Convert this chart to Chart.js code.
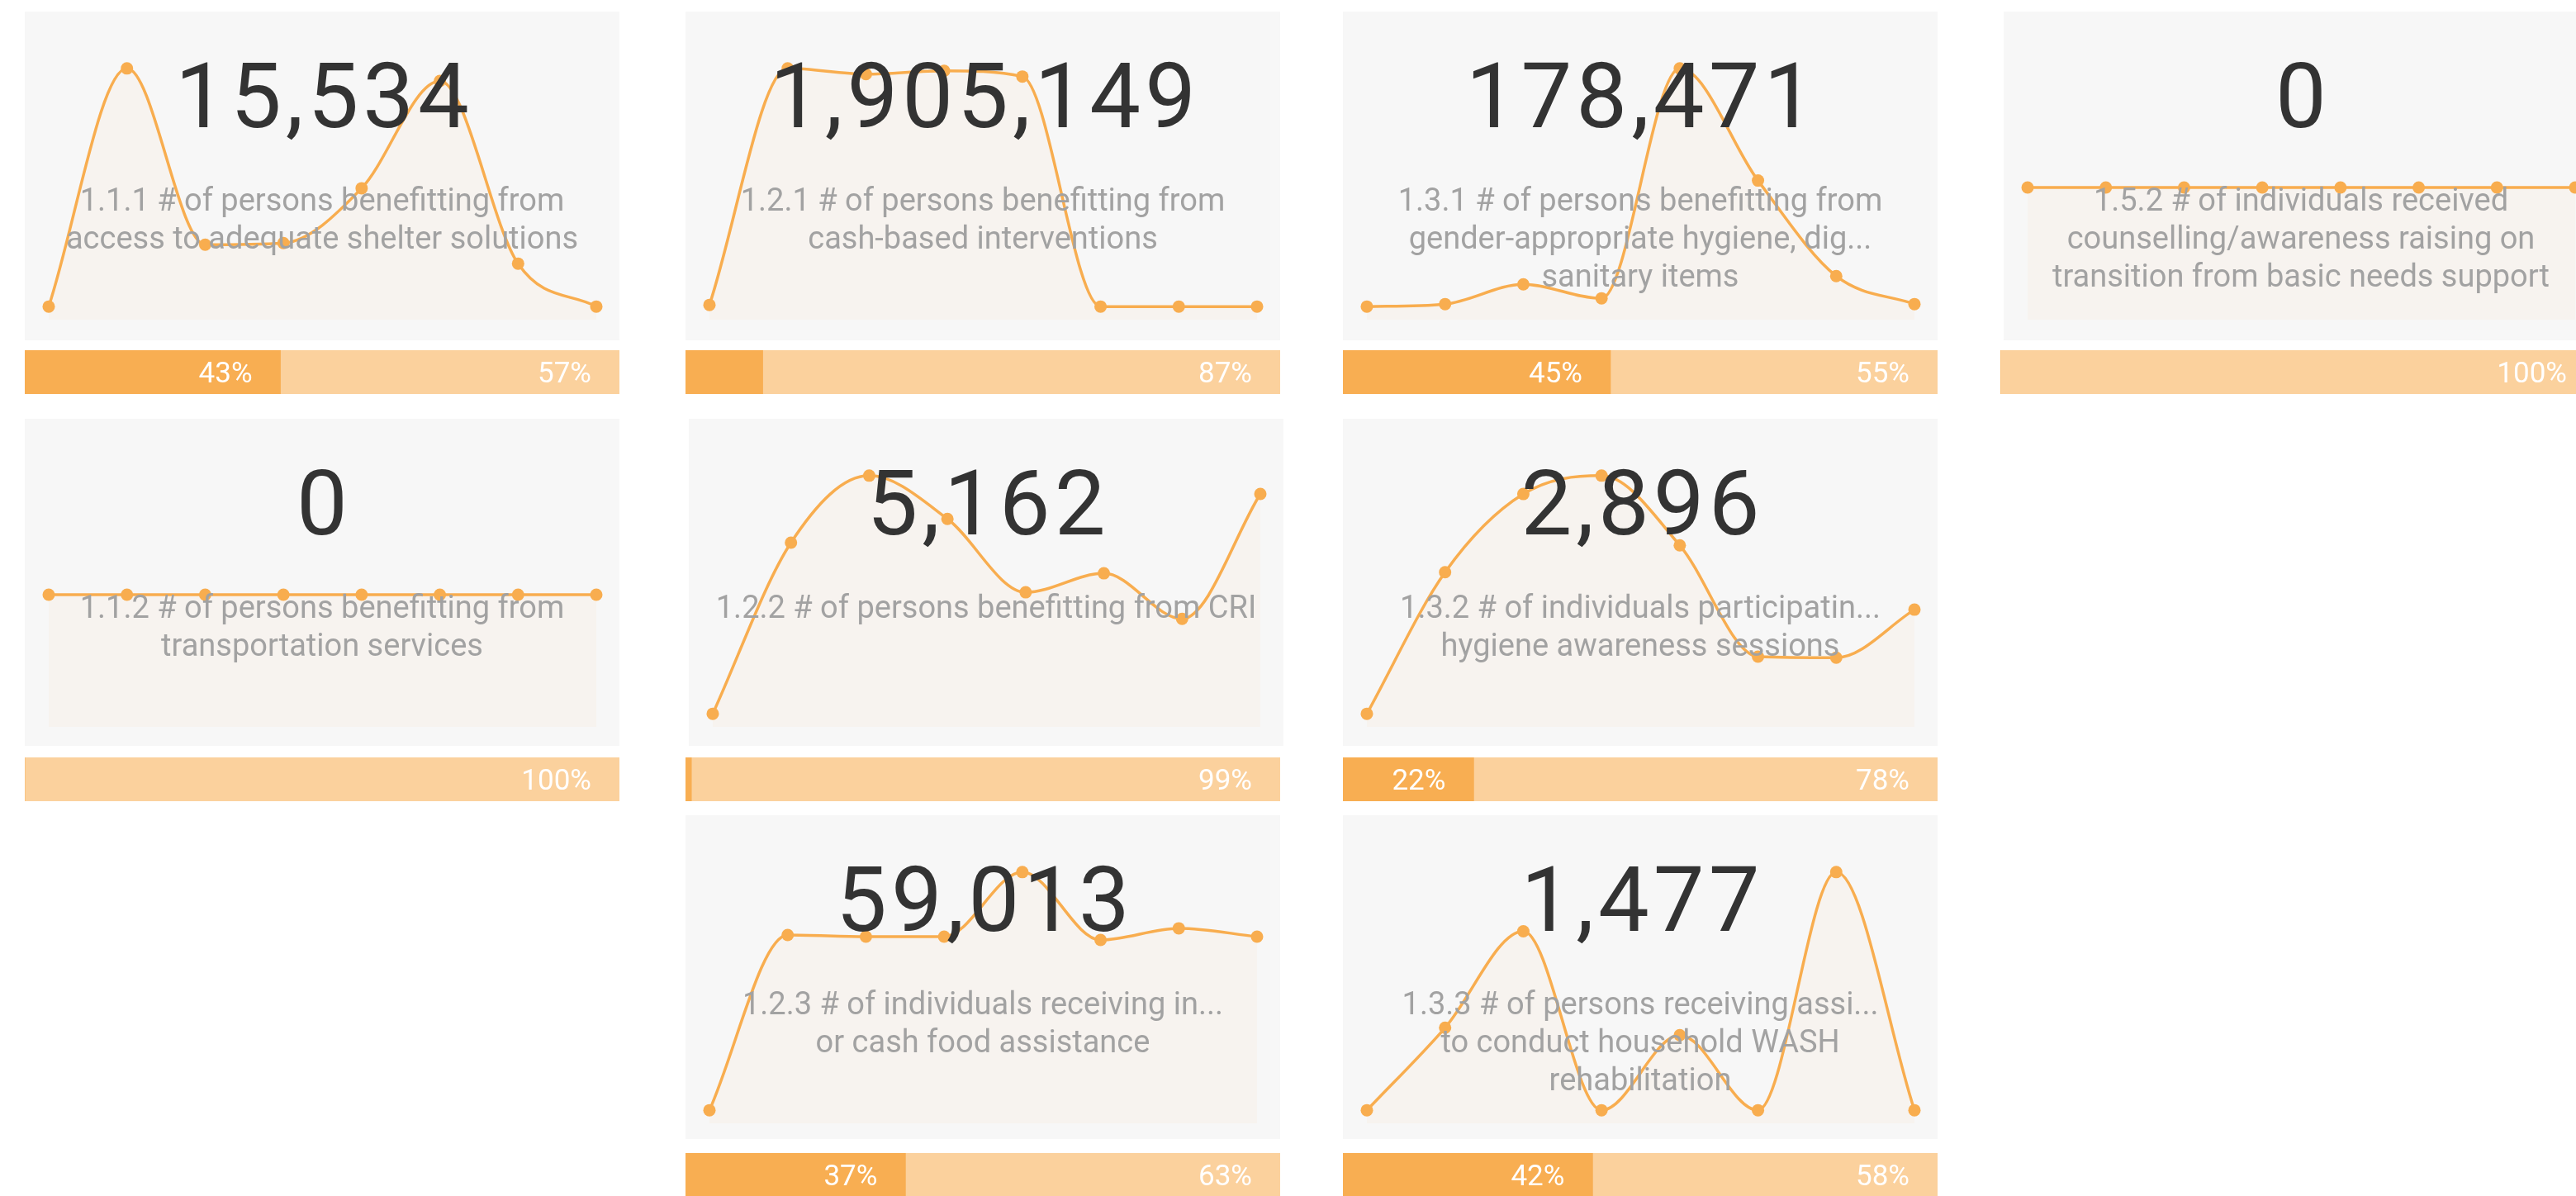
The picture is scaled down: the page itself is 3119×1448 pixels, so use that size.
<!DOCTYPE html>
<html>
<head>
<meta charset="utf-8">
<title>Indicator cards</title>
<script src="https://cdn.jsdelivr.net/npm/chart.js@4.4.1/dist/chart.umd.min.js"></script>
<style>
    body {
        margin: 0;
        width: 3119px;
        height: 1448px;
        overflow: hidden;
        background: #ffffff;
        font-family: Roboto, "Open Sans", sans-serif;
        position: relative;
    }
    .card {
        position: absolute;
        width: 720px;
        background: #f7f7f7;
    }
    .card canvas {
        position: absolute;
        left: 0;
        top: 0;
    }
    .value {
        position: absolute;
        left: 0;
        right: 0;
        top: 48px;
        text-align: center;
        font-size: 110px;
        line-height: 110px;
        color: #333333;
        letter-spacing: 5px;
        padding-left: 5px;
    }
    .title {
        position: absolute;
        left: 0;
        right: 0;
        top: 205px;
        text-align: center;
        font-size: 38px;
        line-height: 46px;
        color: #a2a2a2;
        white-space: pre;
    }
    .bar {
        position: absolute;
        width: 720px;
        height: 53px;
    }
</style>
</head>
<body>
<script>
// months shown on the sparklines (axis is hidden)
const months = ["Jan", "Feb", "Mar", "Apr", "May", "Jun", "Jul", "Aug"];

// monthly values per indicator
const shelter111 = [0, 4930, 1280, 1315, 2450, 4670, 889, 0];
const cash121 = [3386, 483664, 472055, 478826, 467218, 0, 0, 0];
const hygiene131 = [0, 1028, 9230, 3419, 98821, 52296, 12649, 1028];
const counselling152 = [0, 0, 0, 0, 0, 0, 0, 0];
const transport112 = [0, 0, 0, 0, 0, 0, 0, 0];
const cri122 = [0, 748, 1041, 852, 531, 614, 415, 961];
const hygieneSessions132 = [0, 416, 646, 700, 495, 168, 165, 306];
const food123 = [0, 8040, 7964, 7964, 10924, 7811, 8346, 7964];
const wash133 = [0, 212, 460, 0, 193, 0, 612, 0];

const seriesList = [shelter111, cash121, hygiene131, counselling152, transport112, cri122, hygieneSessions132, food123, wash133];

const totals = [15534, 1905149, 178471, 0, 0, 5162, 2896, 59013, 1477];

const titles = [
    ["1.1.1 # of persons benefitting from", "access to adequate shelter solutions"],
    ["1.2.1 # of persons benefitting from", "cash-based interventions"],
    ["1.3.1 # of persons benefitting from", "gender-appropriate hygiene, dig...", "sanitary items"],
    ["1.5.2 # of individuals received", "counselling/awareness raising on", "transition from basic needs support"],
    ["1.1.2 # of persons benefitting from", "transportation services"],
    ["1.2.2 # of persons benefitting from CRI"],
    ["1.3.2 # of individuals participatin...", "hygiene awareness sessions"],
    ["1.2.3 # of individuals receiving in...", "or cash food assistance"],
    ["1.3.3 # of persons receiving assi...", "to conduct household WASH", "rehabilitation"]
];

// progress bars (%)
const achievedPct = [43, 13, 45, 0, 0, 1, 22, 37, 42];
const remainingPct = [57, 87, 55, 100, 100, 99, 78, 63, 58];

// layout: column / row of each card
const slotCol = [0, 1, 2, 3, 0, 1, 2, 1, 2];
const slotRow = [0, 0, 0, 0, 1, 1, 1, 2, 2];
const colLeft = [30, 830, 1626, 2422];
const cardTop = [14, 507, 987];
const cardHeight = [398, 396, 392];
const barTop = [424, 917, 1396];
const cardShift = [0, 0, 0, 4, 0, 4, 0, 0, 0];

const lineColor = "#f8ad4f";
const fillColor = "rgba(248, 173, 79, 0.045)";
const darkOrange = "#f8ae52";
const lightOrange = "#fbd19d";

const barLabels = {
    id: "barLabels",
    afterDatasetsDraw(chart) {
        const ctx = chart.ctx;
        ctx.save();
        ctx.font = "35px Roboto";
        ctx.fillStyle = "#ffffff";
        ctx.textAlign = "right";
        ctx.textBaseline = "middle";
        chart.data.datasets.forEach((ds, i) => {
            chart.getDatasetMeta(i).data.forEach((bar, j) => {
                const w = bar.x - bar.base;
                if (w < 120) return; // too narrow for a label
                ctx.fillText(`${ds.data[j]}%`, bar.x - 34, bar.y + 4);
            });
        });
        ctx.restore();
    }
};

function yBounds(values) {
    const lo = Math.min(...values);
    const hi = Math.max(...values);
    if (hi === lo) {
        return { min: lo - 1, max: hi + 1 };
    }
    const pad = (hi - lo) * 0.055;
    return { min: lo - pad, max: hi + pad };
}

function makeCard(i) {
    const col = slotCol[i];
    const row = slotRow[i];

    const card = document.createElement("div");
    card.className = "card";
    card.style.left = `${colLeft[col] + cardShift[i]}px`;
    card.style.top = `${cardTop[row]}px`;
    card.style.height = `${cardHeight[row]}px`;
    document.body.appendChild(card);

    const canvas = document.createElement("canvas");
    canvas.width = 720;
    canvas.height = 398;
    card.appendChild(canvas);

    const values = seriesList[i];
    const bounds = yBounds(values);

    new Chart(canvas, {
        type: "line",
        data: {
            labels: months,
            datasets: [{
                data: values,
                borderColor: lineColor,
                backgroundColor: fillColor,
                fill: "start",
                cubicInterpolationMode: "monotone",
                borderWidth: 3.5,
                pointRadius: 7.5,
                pointBorderWidth: 0,
                pointBackgroundColor: lineColor,
                clip: false
            }]
        },
        options: {
            responsive: false,
            animation: false,
            events: [],
            layout: { padding: { left: 29, right: 28, top: 53, bottom: 25 } },
            plugins: {
                legend: { display: false },
                tooltip: { enabled: false }
            },
            scales: {
                x: { display: false, offset: false },
                y: { display: false, min: bounds.min, max: bounds.max }
            }
        }
    });

    const value = document.createElement("div");
    value.className = "value";
    value.textContent = totals[i].toLocaleString("en-US");
    card.appendChild(value);

    const title = document.createElement("div");
    title.className = "title";
    title.textContent = titles[i].join("\n");
    card.appendChild(title);

    // progress bar below the card
    const barWrap = document.createElement("div");
    barWrap.className = "bar";
    barWrap.style.left = `${colLeft[col]}px`;
    barWrap.style.top = `${barTop[row]}px`;
    document.body.appendChild(barWrap);

    const barCanvas = document.createElement("canvas");
    barCanvas.width = 720;
    barCanvas.height = 53;
    barWrap.appendChild(barCanvas);

    new Chart(barCanvas, {
        type: "bar",
        data: {
            labels: [titles[i][0].split(" ")[0]],
            datasets: [
                { data: [achievedPct[i]], backgroundColor: darkOrange },
                { data: [remainingPct[i]], backgroundColor: lightOrange }
            ]
        },
        options: {
            indexAxis: "y",
            responsive: false,
            animation: false,
            events: [],
            datasets: { bar: { barPercentage: 1, categoryPercentage: 1, borderWidth: 0 } },
            plugins: {
                legend: { display: false },
                tooltip: { enabled: false }
            },
            scales: {
                x: { stacked: true, display: false, min: 0, max: 100 },
                y: { stacked: true, display: false }
            }
        },
        plugins: [barLabels]
    });
}

for (let i = 0; i < seriesList.length; i++) {
    makeCard(i);
}
</script>
</body>
</html>
